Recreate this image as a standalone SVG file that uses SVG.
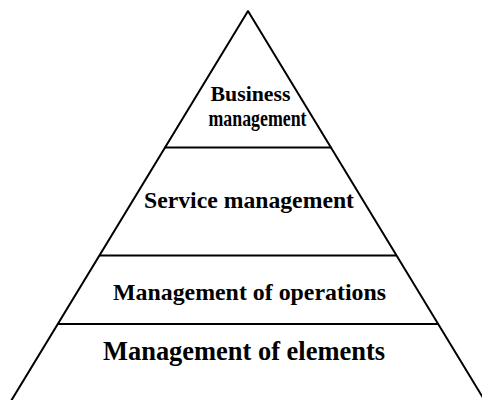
<svg xmlns="http://www.w3.org/2000/svg" width="482" height="400" viewBox="0 0 482 400">
<style>
.edge{fill:none;stroke:#000;stroke-width:2;stroke-linejoin:round}
.t{font-family:"Liberation Serif","Times New Roman",serif;font-weight:bold;fill:#000;text-anchor:middle}
</style>
<rect width="482" height="400" fill="#fff"/>
<g id="pyramid-outline">
<polyline class="edge" points="11,401 248,11 485,401"/>
</g>
<g id="connectors">
<line class="edge" x1="164.5" y1="147.5" x2="331.5" y2="147.5"/>
<line class="edge" x1="99.5" y1="255.5" x2="396.5" y2="255.5"/>
<line class="edge" x1="58" y1="324" x2="438" y2="324"/>
</g>
<g id="business">
<text class="t" x="250.5" y="100.5" font-size="20.5" textLength="80" lengthAdjust="spacingAndGlyphs">Business</text>
<text class="t" x="257.5" y="125.5" font-size="22.5" textLength="98" lengthAdjust="spacingAndGlyphs">management</text>
</g>
<g id="service">
<text class="t" x="249" y="208" font-size="23" textLength="210" lengthAdjust="spacingAndGlyphs">Service management</text>
</g>
<g id="operations">
<text class="t" x="249.5" y="300" font-size="23" textLength="273" lengthAdjust="spacingAndGlyphs">Management of operations</text>
</g>
<g id="elements">
<text class="t" x="244" y="360" font-size="26.5" textLength="282" lengthAdjust="spacingAndGlyphs">Management of elements</text>
</g>
</svg>
